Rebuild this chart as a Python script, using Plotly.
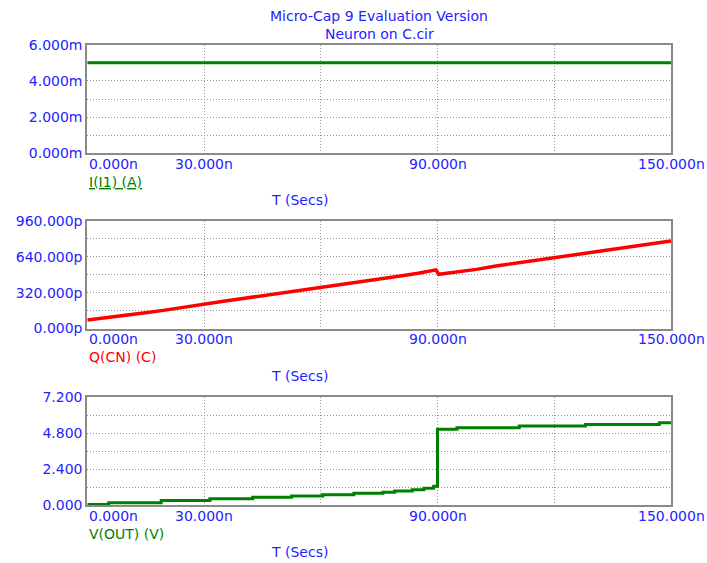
import plotly.graph_objects as go

# ---------------- data ----------------
title_lines = ["Micro-Cap 9 Evaluation Version", "Neuron on C.cir"]

# panel 1: I(I1) in mA
t_i = [0, 150]
i_ma = [5.0, 5.0]

# panel 2: Q(CN) in pC
t_q = [0, 5, 10, 15, 20, 25, 30, 35, 40, 45, 50, 55, 60, 65, 70, 75, 80, 85, 89.6,
       90.3, 95, 100, 105, 110, 115, 120, 125, 130, 135, 140, 145, 150]
q_pc = [76, 96, 117, 140, 164, 192, 220, 244, 268, 292, 316, 341, 366, 391, 416, 441,
        466, 494, 524, 484, 505, 528, 558, 582, 606, 632, 656, 681, 706, 731, 756, 782]

# panel 3: V(OUT) in V (staircase)
t_v = [0, 5.5, 19, 31.5, 42.5, 52.5, 60.5, 68.5, 76, 79, 83.5, 86.5, 89, 90,
       95, 111, 128, 147, 150]
v_out = [0.03, 0.15, 0.3, 0.42, 0.52, 0.6, 0.68, 0.78, 0.85, 0.93, 1.02, 1.12, 1.25,
         5.05, 5.15, 5.27, 5.37, 5.48, 5.48]

x_grid = [30, 60, 90, 120]
x_label_vals = [0, 30, 90, 150]
x_label_text = ["0.000n", "30.000n", "90.000n", "150.000n"]

y1_vals = [0, 1, 2, 3, 4, 5, 6]
y1_text = ["0.000m", "", "2.000m", "", "4.000m", "", "6.000m"]
y2_vals = [0, 160, 320, 480, 640, 800, 960]
y2_text = ["0.000p", "", "320.000p", "", "640.000p", "", "960.000p"]
y3_vals = [0, 1.2, 2.4, 3.6, 4.8, 6.0, 7.2]
y3_text = ["0.000", "", "2.400", "", "4.800", "", "7.200"]

series_names = ["I(I1) (A)", "Q(CN) (C)", "V(OUT) (V)"]
x_title = "T (Secs)"

# ---------------- style ----------------
W, H = 707, 563
BLUE = "#2323ff"
GREEN = "#008000"
RED = "#ff0000"
BORDER = "#8a8a8a"
GRID = "#9a9a9a"
FONT = "DejaVu Sans"
FS = 14

x_left, x_right = 87.3, 671.0
panels = [(44.7, 153.3), (221.0, 328.5), (397.0, 505.0)]  # top, bottom px


def py(px):
    return 1 - px / H


fig = go.Figure()
fig.add_trace(go.Scatter(x=t_i, y=i_ma, mode="lines", line=dict(color=GREEN, width=3),
                         xaxis="x", yaxis="y", showlegend=False))
fig.add_trace(go.Scatter(x=t_q, y=q_pc, mode="lines", line=dict(color=RED, width=3.5),
                         xaxis="x2", yaxis="y2", showlegend=False))
fig.add_trace(go.Scatter(x=t_v, y=v_out, mode="lines", line=dict(color=GREEN, width=3, shape="hv"),
                         xaxis="x3", yaxis="y3", showlegend=False))

xdom = [x_left / W, x_right / W]
yinfo = [(y1_vals, y1_text, [0, 6]), (y2_vals, y2_text, [0, 960]), (y3_vals, y3_text, [0, 7.2])]

layout = dict(width=W, height=H, margin=dict(l=0, r=0, t=0, b=0, autoexpand=False),
              paper_bgcolor="white", plot_bgcolor="white",
              font=dict(family=FONT, size=FS, color=BLUE))
annotations = []
for k, (top, bot) in enumerate(panels):
    sfx = "" if k == 0 else str(k + 1)
    yv, yt, yr = yinfo[k]
    layout["xaxis" + sfx] = dict(domain=xdom, range=[0, 150], anchor="y" + sfx,
                                 tickvals=x_grid, showticklabels=False, ticks="",
                                 showgrid=True, gridcolor=GRID, griddash="1px,2px", gridwidth=1,
                                 showline=True, linecolor=BORDER, linewidth=2, mirror=True,
                                 zeroline=False, fixedrange=True, automargin=False)
    layout["yaxis" + sfx] = dict(domain=[py(bot), py(top)], range=yr, anchor="x" + sfx,
                                 tickvals=yv, ticktext=yt, ticks="",
                                 tickfont=dict(family=FONT, size=FS, color=BLUE),
                                 showgrid=True, gridcolor=GRID, griddash="1px,2px", gridwidth=1,
                                 showline=True, linecolor=BORDER, linewidth=2, mirror=True,
                                 zeroline=False, fixedrange=True, automargin=False)
    for v, txt in zip(x_label_vals, x_label_text):
        annotations.append(dict(x=v, xref="x" + sfx, y=py(bot + 10.5), yref="paper",
                                text=txt, showarrow=False,
                                xanchor="left" if v == 0 else "center", yanchor="middle",
                                font=dict(family=FONT, size=FS, color=BLUE)))
    color = RED if k == 1 else GREEN
    annotations.append(dict(x=0, xref="x" + sfx, y=py(bot + 28.5), yref="paper",
                            text=series_names[k], showarrow=False, xanchor="left", yanchor="middle",
                            font=dict(family=FONT, size=FS, color=color,
                                      lineposition="under" if k == 0 else "none")))
    annotations.append(dict(x=299 / W, xref="paper", y=py(bot + 47), yref="paper",
                            text=x_title, showarrow=False, xanchor="center", yanchor="middle",
                            font=dict(family=FONT, size=FS, color=BLUE)))

for j, (line, ypx) in enumerate(zip(title_lines, [16, 34])):
    annotations.append(dict(x=(x_left + x_right) / 2 / W, xref="paper", y=py(ypx), yref="paper",
                            text=line, showarrow=False, xanchor="center", yanchor="middle",
                            font=dict(family=FONT, size=FS, color=BLUE)))

layout["annotations"] = annotations
fig.update_layout(**layout)
fig.write_html("out.html", config={"displayModeBar": False},
               post_script="document.body.style.margin='0';document.body.style.padding='0';")
